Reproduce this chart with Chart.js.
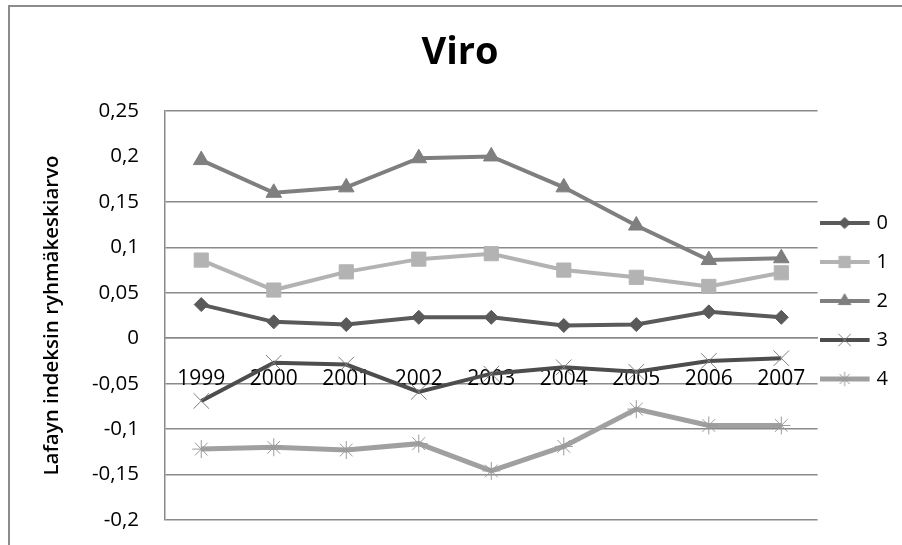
<!DOCTYPE html>
<html>
<head>
<meta charset="utf-8">
<script src="https://cdn.jsdelivr.net/npm/chart.js@4/dist/chart.umd.min.js"></script>
<style>
  html, body { margin: 0; padding: 0; background: #fff; }
  #wrap { width: 902px; height: 545px; }
</style>
</head>
<body>
<div id="wrap"><canvas id="viroChart" width="902" height="545"></canvas></div>
<script>
// data
const years = ['1999', '2000', '2001', '2002', '2003', '2004', '2005', '2006', '2007'];
const seriesNames = ['0', '1', '2', '3', '4'];
const group0 = [0.037, 0.018, 0.015, 0.023, 0.023, 0.014, 0.015, 0.029, 0.023];
const group1 = [0.086, 0.053, 0.073, 0.087, 0.093, 0.075, 0.067, 0.057, 0.072];
const group2 = [0.196, 0.160, 0.166, 0.198, 0.200, 0.166, 0.124, 0.086, 0.088];
const group3 = [-0.069, -0.027, -0.029, -0.059, -0.039, -0.032, -0.037, -0.025, -0.022];
const group4 = [-0.122, -0.120, -0.123, -0.116, -0.146, -0.119, -0.078, -0.096, -0.096];
const yTicks = [-0.2, -0.15, -0.1, -0.05, 0, 0.05, 0.1, 0.15, 0.2, 0.25];

const FONT = "'Open Sans', sans-serif";
const GRID = '#8a8a8a';

const styles = [
    { color: '#5a5a5a', mark: '#5a5a5a', point: 'rectRot', radius: 7, pbw: 1, lw: 4 },
    { color: '#b3b3b3', mark: '#b3b3b3', point: 'rect', radius: 10, pbw: 1, lw: 4 },
    { color: '#7f7f7f', mark: '#7f7f7f', point: 'triangle', radius: 9, pbw: 1, lw: 4 },
    { color: '#4d4d4d', mark: '#808080', point: 'crossRot', radius: 11, pbw: 1, lw: 4 },
    { color: '#a0a0a0', mark: '#9a9a9a', point: 'star', radius: 9, pbw: 1, lw: 5 }
];
const allData = [group0, group1, group2, group3, group4];
const lineOnly = ['crossRot', 'star'];

// legend sample: short line with the marker in the middle
function legendSample(st) {
    const c = document.createElement('canvas');
    c.width = 64; c.height = 22;
    const g = c.getContext('2d');
    g.strokeStyle = st.color;
    g.lineWidth = st.lw;
    g.beginPath();
    g.moveTo(0, 11); g.lineTo(50, 11);
    g.stroke();
    g.fillStyle = lineOnly.includes(st.point) ? 'rgba(0,0,0,0)' : st.mark;
    g.strokeStyle = st.mark;
    g.lineWidth = st.pbw;
    Chart.helpers.drawPoint(g, { pointStyle: st.point, radius: st.radius * 0.8, borderWidth: st.pbw, rotation: 0 }, 25, 11);
    return c;
}

const frame = {
    id: 'frame',
    beforeDraw(chart) {
        const ctx = chart.ctx;
        ctx.save();
        ctx.fillStyle = '#fff';
        ctx.fillRect(0, 0, chart.width, chart.height);
        ctx.strokeStyle = '#8c8c8c';
        ctx.lineWidth = 2;
        ctx.beginPath();
        ctx.moveTo(9, chart.height);
        ctx.lineTo(9, 6);
        ctx.lineTo(chart.width, 6);
        ctx.stroke();
        ctx.restore();
    }
};

new Chart(document.getElementById('viroChart').getContext('2d'), {
    type: 'line',
    data: {
        labels: years,
        datasets: allData.map((d, i) => ({
            label: seriesNames[i],
            data: d,
            borderColor: styles[i].color,
            backgroundColor: styles[i].color,
            borderWidth: styles[i].lw,
            pointStyle: styles[i].point,
            pointRadius: styles[i].radius,
            pointBorderWidth: styles[i].pbw,
            pointBackgroundColor: styles[i].mark,
            pointBorderColor: styles[i].mark,
            tension: 0,
            fill: false
        }))
    },
    options: {
        responsive: false,
        animation: false,
        layout: { padding: { left: 22, right: 4, top: 82, bottom: 25 } },
        plugins: {
            title: {
                display: true,
                text: 'Viro',
                color: '#000',
                font: { family: FONT, size: 38, weight: 'bold' },
                padding: { top: -52, bottom: 35.4 }
            },
            legend: {
                position: 'right',
                labels: {
                    usePointStyle: true,
                    pointStyleWidth: 30,
                    padding: 19,
                    color: '#000',
                    font: { family: FONT, size: 20 },
                    generateLabels(chart) {
                        return chart.data.datasets.map((ds, i) => ({
                            text: ds.label,
                            pointStyle: legendSample(styles[i]),
                            fillStyle: styles[i].color,
                            strokeStyle: styles[i].color,
                            lineWidth: 0,
                            hidden: false,
                            datasetIndex: i
                        }));
                    }
                }
            },
            tooltip: { enabled: false }
        },
        scales: {
            x: {
                position: { y: 0 },
                offset: true,
                afterFit(scale) {
                    // axis sits at y = 0 inside the plot
                    scale.height = 0;
                },
                grid: { display: false, drawTicks: false },
                border: { display: true, color: GRID, width: 1.5 },
                ticks: {
                    color: '#000',
                    padding: 28,
                    maxRotation: 0,
                    autoSkip: false,
                    font: { family: FONT, size: 21 }
                }
            },
            y: {
                min: -0.2,
                max: 0.25,
                afterBuildTicks(scale) {
                    scale.ticks = yTicks.map(v => ({ value: v }));
                },
                afterFit(scale) {
                    scale.width = 143;
                    scale.paddingTop = 0;
                    scale.paddingBottom = 0;
                },
                grid: {
                    drawTicks: false,
                    color: ctx => (ctx.tick && Math.abs(ctx.tick.value - 0.2) < 1e-9) ? 'rgba(0,0,0,0)' : GRID,
                    lineWidth: 1.5
                },
                border: { display: true, color: GRID, width: 1.5 },
                ticks: {
                    color: '#000',
                    padding: 26,
                    font: { family: FONT, size: 20.5 },
                    callback: v => String(Math.round(v * 100) / 100).replace('.', ',')
                },
                title: {
                    display: true,
                    text: 'Lafayn indeksin ryhmäkeskiarvo',
                    color: '#000',
                    font: { family: FONT, size: 20.5, weight: '600' },
                    padding: { top: 17.5, bottom: 0 }
                }
            }
        }
    },
    plugins: [frame]
});
</script>
</body>
</html>
